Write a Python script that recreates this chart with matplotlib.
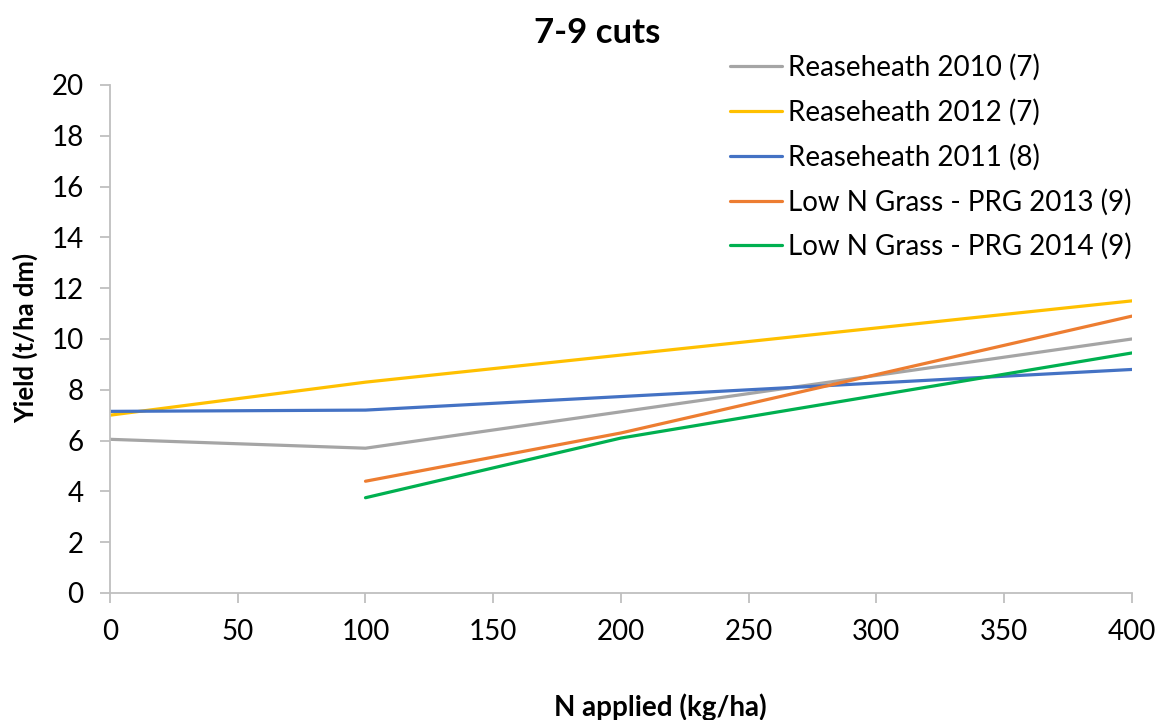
import matplotlib
matplotlib.use("Agg")
import matplotlib.pyplot as plt

# data
labels = ["Reaseheath 2010 (7)", "Reaseheath 2012 (7)", "Reaseheath 2011 (8)",
          "Low N Grass - PRG 2013 (9)", "Low N Grass - PRG 2014 (9)"]
colors = ["#A5A5A5", "#FFC000", "#4472C4", "#ED7D31", "#00B050"]

n_reaseheath = [0, 100, 400]
n_lowN = [100, 200, 400]

y_2010 = [6.05, 5.7, 10.0]
y_2012 = [7.0, 8.3, 11.5]
y_2011 = [7.15, 7.2, 8.8]
y_2013 = [4.4, 6.3, 10.9]
y_2014 = [3.75, 6.1, 9.45]

xs = [n_reaseheath, n_reaseheath, n_reaseheath, n_lowN, n_lowN]
ys = [y_2010, y_2012, y_2011, y_2013, y_2014]

plt.rcParams["font.family"] = ["Lato", "DejaVu Sans"]

fig = plt.figure(figsize=(11.58, 7.2), dpi=100)
ax = fig.add_axes([0.095, 0.1764, 0.8825, 0.7056])

for x, y, c, lab in zip(xs, ys, colors, labels):
    ax.plot(x, y, color=c, lw=2.3, label=lab, solid_capstyle="round")

ax.set_xlim(0, 400)
ax.set_ylim(0, 20)
ax.set_xticks(range(0, 401, 50))
ax.set_yticks(range(0, 21, 2))

for s in ["top", "right"]:
    ax.spines[s].set_visible(False)
for s in ["left", "bottom"]:
    ax.spines[s].set_color("#BFBFBF")
    ax.spines[s].set_linewidth(1.3)
ax.tick_params(axis="both", colors="#BFBFBF", labelcolor="black",
               labelsize=20, length=7, width=1.3)
ax.tick_params(axis="x", pad=12)
ax.tick_params(axis="y", pad=12)

fig.text(0.5155, 0.954, "7-9 cuts", ha="center", va="center",
         fontsize=25, fontweight="bold")
fig.text(0.57, 0.018, "N applied (kg/ha)", ha="center", va="center",
         fontsize=20, fontweight="bold")
fig.text(0.0216, 0.53, "Yield (t/ha dm)", ha="center", va="center",
         rotation=90, fontsize=18.5, fontweight="bold")

leg = fig.legend(loc="upper left", bbox_to_anchor=(0.621, 0.941), frameon=False,
                 fontsize=20, handlelength=1.87, handletextpad=0.22,
                 labelspacing=0.65, borderaxespad=0)

fig.savefig("out.png", dpi=100)
